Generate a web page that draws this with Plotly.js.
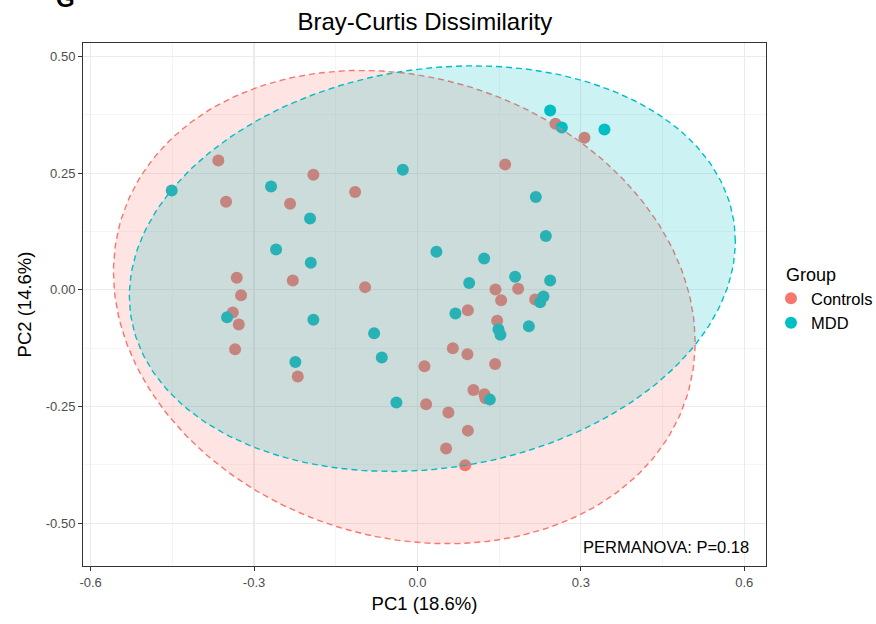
<!DOCTYPE html>
<html><head><meta charset="utf-8">
<script src="https://cdn.plot.ly/plotly-3.0.1.min.js"></script>
<style>body{margin:0;background:#fff}</style>
</head><body><div id="chart" style="width:876px;height:624px"></div>
<script>
const groupNames = ['Controls', 'MDD'];
const groupColors = ['#F8766D', '#00BFC4'];

const controlsPC1 = [-0.3655, -0.1910, -0.1144, -0.3513, -0.2338, -0.3317, -0.2288, -0.0961, -0.3238, -0.3390,
  -0.3280, -0.3348, -0.2197, 0.1611, 0.2534, 0.3067, 0.1433, 0.1849, 0.1537, 0.2162,
  0.0926, 0.1464, 0.0650, 0.0918, 0.0129, 0.1427, 0.1028, 0.1230, 0.1249, 0.0160,
  0.0569, 0.0926, 0.0527, 0.0876];
const controlsPC2 = [0.2771, 0.2464, 0.2093, 0.1886, 0.1843, 0.0257, 0.0199, 0.0058, -0.0114, -0.0486,
  -0.0744, -0.1271, -0.1858, 0.2685, 0.3557, 0.3257, 0.0006, 0.0021, -0.0221, -0.0208,
  -0.0435, -0.0664, -0.1249, -0.1378, -0.1635, -0.1586, -0.2143, -0.2235, -0.2321, -0.2449,
  -0.2629, -0.3015, -0.3400, -0.3756];

const mddPC1 = [-0.4511, -0.2687, -0.1971, -0.0268, -0.2595, -0.1958, -0.3495, -0.1910, -0.0795, -0.0654,
  -0.2241, -0.0386, 0.2437, 0.2652, 0.3434, 0.2174, 0.2358, 0.0349, 0.1225, 0.1794,
  0.0950, 0.2437, 0.2314, 0.2253, 0.0698, 0.1488, 0.1524, 0.2046, 0.1330];
const mddPC2 = [0.2128, 0.2213, 0.1528, 0.2571, 0.0864, 0.0579, -0.0585, -0.0643, -0.0928, -0.1451,
  -0.1543, -0.2415, 0.3842, 0.3478, 0.3435, 0.1986, 0.1151, 0.0814, 0.0671, 0.0279,
  0.0144, 0.0199, -0.0144, -0.0264, -0.0508, -0.0842, -0.0964, -0.0778, -0.2351];

// ellipse parameters: [centre PC1, centre PC2, half-extent PC1, half-extent PC2, correlation]
const controlsEllipse = [-0.0241, -0.0369, 0.534, 0.5068, -0.148];
const mddEllipse = [0.0274, 0.0454, 0.5563, 0.4343, 0.135];

const xTickVals = [-0.6, -0.3, 0, 0.3, 0.6];
const xTickText = ['-0.6', '-0.3', '0.0', '0.3', '0.6'];
const yTickVals = [-0.5, -0.25, 0, 0.25, 0.5];
const yTickText = ['-0.50', '-0.25', '0.00', '0.25', '0.50'];

function ellipsePath(p) {
  const [cx, cy, sx, sy, r] = p;
  const xs = [], ys = [];
  const n = 240;
  for (let i = 0; i <= n; i++) {
    const t = 2 * Math.PI * i / n;
    xs.push(cx + sx * Math.cos(t));
    ys.push(cy + sy * (r * Math.cos(t) + Math.sqrt(1 - r * r) * Math.sin(t)));
  }
  return {xs, ys};
}
function rgba(hex, a) {
  const v = parseInt(hex.slice(1), 16);
  return `rgba(${(v >> 16) & 255},${(v >> 8) & 255},${v & 255},${a})`;
}

const FONT = 'Liberation Sans, Arial, Helvetica, sans-serif';
const eC = ellipsePath(controlsEllipse);
const eM = ellipsePath(mddEllipse);

const traces = [
  {x: controlsPC1, y: controlsPC2, type: 'scatter', mode: 'markers', name: groupNames[0],
   marker: {color: groupColors[0], size: 12}, hoverinfo: 'skip'},
  {x: mddPC1, y: mddPC2, type: 'scatter', mode: 'markers', name: groupNames[1],
   marker: {color: groupColors[1], size: 12}, hoverinfo: 'skip'},
  {x: eC.xs, y: eC.ys, type: 'scatter', mode: 'lines', fill: 'toself', showlegend: false,
   fillcolor: rgba(groupColors[0], 0.2), line: {color: groupColors[0], dash: '6px,4px', width: 1.4}, hoverinfo: 'skip'},
  {x: eM.xs, y: eM.ys, type: 'scatter', mode: 'lines', fill: 'toself', showlegend: false,
   fillcolor: rgba(groupColors[1], 0.2), line: {color: groupColors[1], dash: '6px,4px', width: 1.4}, hoverinfo: 'skip'}
];

const axisCommon = {
  showline: true, mirror: true, linecolor: '#333333', linewidth: 1,
  ticks: 'outside', ticklen: 4, tickcolor: '#333333', tickwidth: 1,
  gridcolor: '#EBEBEB', gridwidth: 1.1, zeroline: false, automargin: false,
  tickfont: {family: FONT, size: 13, color: '#4D4D4D'}
};

// plot area spans 83..766 px horizontally, 43..566 px vertically
const PW = 683, PL = 83, PB = 566, PH = 523;
const px = v => (v - PL) / PW;
const py = v => (PB - v) / PH;

const layout = {
  width: 876, height: 624,
  margin: {l: 83, r: 110, t: 43, b: 58, autoexpand: false},
  paper_bgcolor: '#ffffff', plot_bgcolor: '#ffffff',
  font: {family: FONT, color: '#000'},
  title: {text: 'Bray-Curtis Dissimilarity', x: 0.485, xanchor: 'center', y: 0.966, yanchor: 'middle',
          font: {family: FONT, size: 24, color: '#000'}},
  xaxis: Object.assign({}, axisCommon, {
    range: [-0.614, 0.640], tickvals: xTickVals, ticktext: xTickText,
    minor: {dtick: 0.15, tick0: -0.6, showgrid: true, gridcolor: '#F3F3F3', gridwidth: 0.8, ticks: ''},
    title: {text: 'PC1 (18.6%)', font: {family: FONT, size: 18.5, color: '#000'}, standoff: 8}
  }),
  yaxis: Object.assign({}, axisCommon, {
    range: [-0.5914, 0.5286], tickvals: yTickVals, ticktext: yTickText,
    minor: {dtick: 0.125, tick0: -0.5, showgrid: true, gridcolor: '#F3F3F3', gridwidth: 0.8, ticks: ''},
    title: {text: 'PC2 (14.6%)', font: {family: FONT, size: 18.5, color: '#000'}, standoff: 9}
  }),
  legend: {
    x: px(771), xanchor: 'left', y: py(281), yanchor: 'top',
    font: {family: FONT, size: 16.5, color: '#000'},
    bgcolor: 'rgba(0,0,0,0)', itemwidth: 30, tracegroupgap: 0
  },
  annotations: [
    {text: 'Group', xref: 'paper', yref: 'paper', x: px(784), y: py(275),
     xanchor: 'left', yanchor: 'middle', showarrow: false, font: {family: FONT, size: 18, color: '#000'}},
    {text: 'PERMANOVA: P=0.18', xref: 'paper', yref: 'paper', x: 0.9776, y: 0.0369,
     xanchor: 'right', yanchor: 'middle', showarrow: false, font: {family: FONT, size: 16.5, color: '#000'}},
    {text: '<b>G</b>', xref: 'paper', yref: 'paper', x: -0.025, y: 1.085,
     xanchor: 'center', yanchor: 'middle', showarrow: false, font: {family: FONT, size: 24, color: '#000'}}
  ],
  showlegend: true
};

Plotly.newPlot('chart', traces, layout, {displayModeBar: false, staticPlot: true});
</script>
</body></html>
